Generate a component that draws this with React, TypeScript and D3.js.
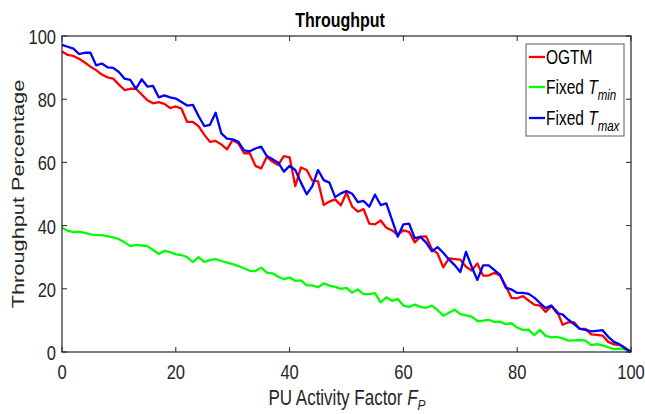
import React from "react";
import * as d3 from "d3";

const activity: number[] = Array.from({ length: 101 }, (_, i) => i);

const ogtm: number[] = [
  95.1, 94.0, 93.7, 92.8, 91.6, 90.3, 89.2, 87.8, 86.9, 86.5,
  84.6, 82.9, 83.3, 83.3, 81.5, 79.7, 78.7, 79.1, 78.5, 77.2,
  77.7, 77.0, 72.8, 72.8, 71.5, 68.8, 66.5, 66.8, 65.7, 64.1,
  67.1, 66.0, 62.9, 62.9, 58.9, 58.1, 61.8, 60.2, 59.2, 62.0,
  61.6, 52.5, 58.4, 57.6, 54.2, 54.0, 46.5, 47.6, 48.3, 46.4,
  50.4, 46.0, 44.4, 45.2, 40.6, 40.4, 41.6, 39.3, 38.5, 37.1,
  38.5, 38.0, 34.7, 36.5, 36.6, 32.5, 31.2, 26.8, 29.6, 29.4,
  29.2, 27.0, 25.8, 28.0, 24.2, 24.2, 25.1, 24.1, 20.9, 17.1,
  17.0, 17.7, 16.3, 15.0, 14.7, 12.7, 14.5, 12.9, 8.6, 9.4,
  9.4, 7.3, 7.3, 5.6, 5.4, 5.2, 3.2, 2.4, 2.2, 1.3,
  0.0,
];

const fixedTmin: number[] = [
  39.3, 38.4, 37.9, 38.1, 37.7, 37.2, 37.0, 37.0, 36.7, 36.3,
  35.7, 34.7, 33.5, 33.9, 33.7, 33.5, 32.3, 31.0, 32.0, 31.6,
  30.9, 30.7, 30.0, 28.4, 30.0, 28.5, 29.1, 29.4, 28.8, 28.3,
  27.8, 27.2, 26.5, 25.7, 25.6, 26.7, 25.1, 24.9, 23.8, 23.0,
  23.6, 22.5, 22.7, 21.1, 21.1, 20.5, 21.7, 21.0, 20.6, 20.0,
  20.3, 18.8, 19.8, 18.3, 18.3, 18.6, 15.7, 17.3, 16.2, 16.8,
  14.7, 14.3, 15.0, 14.3, 14.0, 14.7, 13.3, 11.5, 12.4, 13.4,
  12.0, 11.6, 11.2, 9.8, 9.9, 10.2, 9.5, 9.6, 8.8, 9.1,
  7.7, 7.0, 7.1, 5.3, 7.0, 5.1, 4.6, 4.8, 4.3, 3.6,
  3.7, 3.8, 3.6, 2.2, 2.5, 2.1, 1.5, 0.9, 1.1, 0.8,
  0.0,
];

const fixedTmax: number[] = [
  97.2, 96.6, 96.0, 94.3, 94.7, 94.7, 90.7, 91.3, 90.1, 89.9,
  88.6, 86.5, 86.1, 83.3, 86.3, 84.0, 84.2, 80.6, 81.2, 80.6,
  80.2, 79.1, 78.0, 78.2, 74.7, 71.5, 71.9, 75.7, 69.2, 67.5,
  67.3, 66.5, 63.8, 63.5, 64.4, 65.0, 62.0, 61.0, 59.9, 57.1,
  58.9, 57.6, 53.6, 49.9, 52.5, 57.6, 54.4, 53.6, 49.0, 50.2,
  50.9, 50.1, 47.4, 47.8, 46.0, 49.8, 46.5, 47.0, 41.8, 36.5,
  40.4, 40.6, 36.0, 36.4, 34.6, 31.9, 33.2, 31.4, 29.3, 27.5,
  25.3, 31.7, 27.0, 22.8, 27.4, 27.4, 25.9, 24.4, 20.3, 19.8,
  18.7, 18.7, 18.4, 17.2, 15.5, 13.9, 14.7, 12.3, 11.8, 10.2,
  8.8, 7.3, 7.0, 6.5, 6.7, 6.9, 4.8, 3.2, 2.4, 1.1,
  0.0,
];

const xTicks: number[] = [0, 20, 40, 60, 80, 100];
const yTicks: number[] = [0, 20, 40, 60, 80, 100];

const seriesList = [
  { key: "ogtm", values: ogtm, color: "#ff0000" },
  { key: "tmin", values: fixedTmin, color: "#00ff00" },
  { key: "tmax", values: fixedTmax, color: "#0000ff" },
];

const W = 645;
const H = 414;
const L = 62;
const R = 631;
const T = 36;
const B = 352;
const FONT = "'Liberation Sans', Arial, Helvetica, sans-serif";
const AX = "#262626";
const SY = 1.28;

export default function App() {
  const x = d3.scaleLinear().domain([0, 100]).range([L, R]);
  const y = d3.scaleLinear().domain([0, 100]).range([B, T]);
  const line = (vals: number[]) =>
    d3
      .line<number>()
      .x((_, i) => x(activity[i]))
      .y((d) => y(d))(vals) as string;

  const tickLen = 5;

  return (
    <svg
      width={W}
      height={H}
      style={{ position: "absolute", left: 0, top: 0, background: "#fff" }}
      fontFamily={FONT}
    >
      <rect x={0} y={0} width={W} height={H} fill="#fff" />
      <g>
        {seriesList.map((s) => (
          <path
            key={s.key}
            d={line(s.values)}
            fill="none"
            stroke={s.color}
            strokeWidth={2.3}
            strokeLinejoin="round"
          />
        ))}
      </g>
      <rect x={L} y={T} width={R - L} height={B - T} fill="none" stroke={AX} strokeWidth={1.2} />
      {xTicks.map((t) => (
        <g key={"xt" + t}>
          <line x1={x(t)} x2={x(t)} y1={B} y2={B - tickLen} stroke={AX} strokeWidth={1} />
          <line x1={x(t)} x2={x(t)} y1={T} y2={T + tickLen} stroke={AX} strokeWidth={1} />
          <text
            transform={`translate(${x(t)},${B + 27}) scale(1,${SY})`}
            textAnchor="middle"
            fontSize={16.5}
            fill={AX}
          >
            {t}
          </text>
        </g>
      ))}
      {yTicks.map((t) => (
        <g key={"yt" + t}>
          <line x1={L} x2={L + tickLen} y1={y(t)} y2={y(t)} stroke={AX} strokeWidth={1} />
          <line x1={R} x2={R - tickLen} y1={y(t)} y2={y(t)} stroke={AX} strokeWidth={1} />
          <text
            transform={`translate(${L - 6},${y(t) + 8}) scale(1,${SY})`}
            textAnchor="end"
            fontSize={16.5}
            fill={AX}
          >
            {t}
          </text>
        </g>
      ))}
      <text
        transform={`translate(340,27) scale(1,${SY})`}
        textAnchor="middle"
        fontSize={16}
        fontWeight="bold"
        fill="#000"
      >
        Throughput
      </text>
      <text
        transform={`translate(347,405) scale(1,${SY})`}
        textAnchor="middle"
        fontSize={17}
        fill={AX}
      >
        PU Activity Factor <tspan fontStyle="italic">F</tspan>
        <tspan fontStyle="italic" fontSize={12} dy={4}>P</tspan>
      </text>
      <text
        transform={`translate(24,194) scale(1,${SY}) rotate(-90)`}
        textAnchor="middle"
        fontSize={17}
        fill={AX}
      >
        Throughput Percentage
      </text>
      <g>
        <rect x={526} y={44} width={98} height={92} fill="#fff" stroke="#5a5a5a" strokeWidth={1} />
        {seriesList.map((s, i) => {
          const ly = [57, 87, 118][i];
          return (
            <g key={"lg" + s.key}>
              <line x1={529} x2={545} y1={ly} y2={ly} stroke={s.color} strokeWidth={2.3} />
              <text
                transform={`translate(546,${ly + 7}) scale(1,${SY})`}
                fontSize={15.5}
                fill="#000"
              >
                {i === 0 ? (
                  "OGTM"
                ) : (
                  <>
                    {"Fixed "}
                    <tspan fontStyle="italic">T</tspan>
                    <tspan fontStyle="italic" fontSize={11.5} dy={5}>
                      {i === 1 ? "min" : "max"}
                    </tspan>
                  </>
                )}
              </text>
            </g>
          );
        })}
      </g>
    </svg>
  );
}
